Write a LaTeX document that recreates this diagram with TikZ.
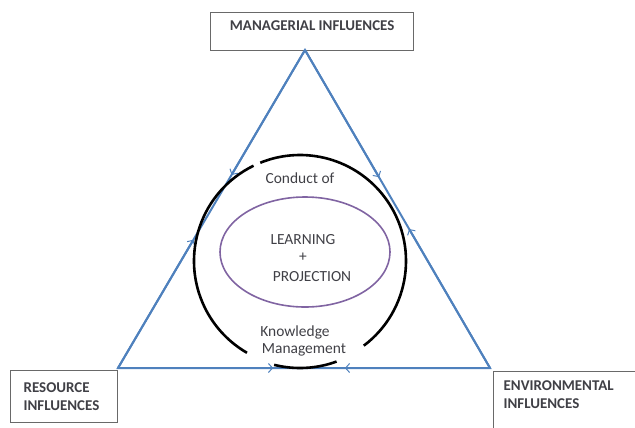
\documentclass[tikz,border=0pt]{standalone}
\usepackage{fontspec}
\setmainfont{Carlito}
\usetikzlibrary{arrows.meta,positioning,shapes.geometric}
\definecolor{triblue}{RGB}{79,129,189}
\definecolor{corepurple}{RGB}{128,100,162}
\definecolor{boxgray}{RGB}{105,105,105}
\definecolor{textgray}{RGB}{64,64,70}

\begin{document}
\begin{tikzpicture}[
  x=1bp, y=-1bp,
  every node/.style={inner sep=0pt, text=textgray,
                     font=\fontsize{15.5}{18}\selectfont},
  influence/.style={rectangle, draw=boxgray, line width=1.3bp, fill=white,
                    anchor=north west, align=left, text height=12bp,
                    font=\fontsize{15}{18}\selectfont\bfseries},
  side/.style={triblue, line width=2bp},
  tip/.style={-{Straight Barb[length=4bp,width=9bp,line width=1bp]}},
  ring/.style={black, line width=2.6bp}
]
\useasboundingbox (0,0) rectangle (635,427);
\clip (0,0) rectangle (635,427);

\node[influence, minimum width=203bp, align=center, text height=11bp,
      text depth=13bp, inner ysep=7bp] (mgr) at (210,12) {MANAGERIAL INFLUENCES};
\node[influence, text width=81bp, inner xsep=13bp, inner ysep=10bp,
      text depth=20bp] (res) at (10,370) {RESOURCE\\INFLUENCES};
\node[influence, text width=127bp, inner xsep=10bp, inner ysep=7bp,
      text depth=40bp] (env) at (493,371) {ENVIRONMENTAL\\INFLUENCES};

\coordinate (apex) at (305,50);
\coordinate (bl) at (118,368);
\coordinate (br) at (490,368);
\path (apex) -- (bl) coordinate[pos=0.393] (la) coordinate[pos=0.597] (lb);
\path (apex) -- (br) coordinate[pos=0.40] (ra) coordinate[pos=0.563] (rb);
\path (bl) -- (br) coordinate[pos=0.417] (ba) coordinate[pos=0.61] (bb);

\draw[side, line join=miter] (bl) -- (apex) -- (br) -- cycle;
\draw[side, tip] (apex) -- (la);
\draw[side, tip] (bl) -- (lb);
\draw[side, tip] (apex) -- (ra);
\draw[side, tip] (br) -- (rb);
\draw[side, tip] (bl) -- (ba);
\draw[side, tip] (br) -- (bb);

\coordinate (hub) at (300,261);
\draw[ring] (hub) ++(-116:106) arc[start angle=-116, end angle=-240, radius=106];
\draw[ring] (hub) ++(-256:107) arc[start angle=-256, end angle=-290, radius=107];
\draw[ring] (hub) ++(-307:106) arc[start angle=-307, end angle=-472, radius=106];

\node[ellipse, draw=corepurple, line width=1.6bp, minimum width=170bp,
      minimum height=110bp] (core) at (305,252) {};

\node (conduct) at (300,178) {Conduct of};
\node (learning) at (303,240) {LEARNING};
\node (plus) at (303,257) {+};
\node (projection) at (312,277) {PROJECTION};
\node (knowledge) at (295,332) {Knowledge};
\node (management) at (304,350) {Management};
\end{tikzpicture}
\end{document}
